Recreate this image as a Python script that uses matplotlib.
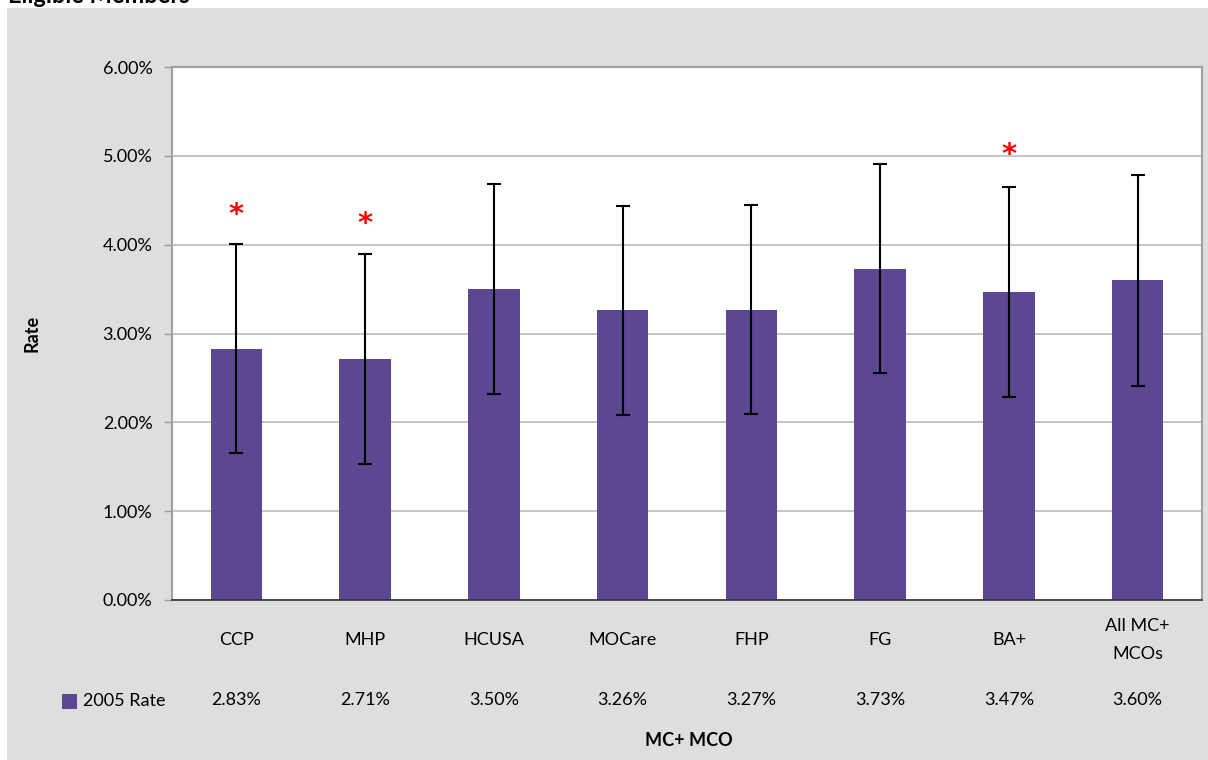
import matplotlib
matplotlib.use("Agg")
import matplotlib.pyplot as plt
from matplotlib.patches import Rectangle
from matplotlib.transforms import blended_transform_factory

# Data
categories = ["CCP", "MHP", "HCUSA", "MOCare", "FHP", "FG", "BA+", "All MC+\nMCOs"]
rates = [2.83, 2.71, 3.50, 3.26, 3.27, 3.73, 3.47, 3.60]
ci_low = [1.65, 1.53, 2.32, 2.08, 2.09, 2.55, 2.29, 2.41]
ci_high = [4.01, 3.89, 4.68, 4.44, 4.45, 4.91, 4.65, 4.78]
star_flags = [True, True, False, False, False, False, True, False]
star_heights = [4.33, 4.23, None, None, None, None, 5.01, None]
series_name = "2005 Rate"
y_ticks = [0, 1, 2, 3, 4, 5, 6]

FONT = ["Lato", "DejaVu Sans"]
plt.rcParams["font.family"] = FONT

W, H = 1208, 760
fig = plt.figure(figsize=(W / 100, H / 100), dpi=100)
fig.patch.set_facecolor("white")

# Gray chart panel
fig.patches.append(Rectangle((7 / W, 0), 1 - 7 / W, 1 - 8 / H,
                             transform=fig.transFigure, facecolor="#DEDEDE",
                             edgecolor="none", zorder=-10))

# Title running off the top edge
fig.text(8 / W, 1 - 3 / H, "Eligible Members", fontsize=17, fontweight="bold",
         ha="left", va="baseline", color="black")

left, right, top, bottom = 172, 1202, 67, 600
ax = fig.add_axes([left / W, 1 - bottom / H, (right - left) / W, (bottom - top) / H])
ax.set_facecolor("white")

x = list(range(len(categories)))
yerr = [[r - lo for r, lo in zip(rates, ci_low)],
        [hi - r for r, hi in zip(rates, ci_high)]]
ax.bar(x, rates, width=0.4, color="#5C4792", zorder=2)
ax.errorbar(x, rates, yerr=yerr, fmt="none", ecolor="black", elinewidth=1.5,
            capsize=5, capthick=1.5, zorder=3)

for xi, flag, h in zip(x, star_flags, star_heights):
    if flag:
        ax.text(xi, h, "*", color="red", fontsize=21, fontweight="bold",
                ha="center", va="center", family="DejaVu Sans", zorder=4)

ax.set_xlim(-0.5, len(categories) - 0.5)
ax.set_ylim(0, 6)
ax.set_yticks(y_ticks)
ax.set_yticklabels([f"{v:.2f}%" for v in y_ticks], fontsize=13)
ax.set_xticks([])
ax.yaxis.grid(True, color="#BBBBBB", linewidth=1.2, zorder=0)
ax.set_axisbelow(True)
ax.tick_params(axis="y", length=6, width=1, color="#999999", pad=8)

for side in ["left", "top", "right"]:
    ax.spines[side].set_color("#A0A0A0")
    ax.spines[side].set_linewidth(1.5)
ax.spines["bottom"].set_color("#333333")
ax.spines["bottom"].set_linewidth(1.2)

# Data table below the axis
tr = blended_transform_factory(ax.transData, fig.transFigure)
for xi, cat, r in zip(x, categories, rates):
    ax.text(xi, 1 - 640 / H, cat, transform=tr, ha="center", va="center",
            fontsize=13, linespacing=1.9)
    ax.text(xi, 1 - 700 / H, f"{r:.2f}%", transform=tr, ha="center",
            va="center", fontsize=13)

fig.patches.append(Rectangle((62 / W, 1 - 709 / H), 15 / W, 15 / H,
                             transform=fig.transFigure, facecolor="#5C4792",
                             edgecolor="none"))
fig.text(83 / W, 1 - 701 / H, series_name, ha="left", va="center", fontsize=13)

fig.text(32 / W, 1 - 333 / H, "Rate", rotation=90, ha="center", va="center",
         fontsize=13, fontweight="bold")
fig.text(689 / W, 1 - 740 / H, "MC+ MCO", ha="center", va="center",
         fontsize=13, fontweight="bold")

fig.savefig("out.png", dpi=100)
